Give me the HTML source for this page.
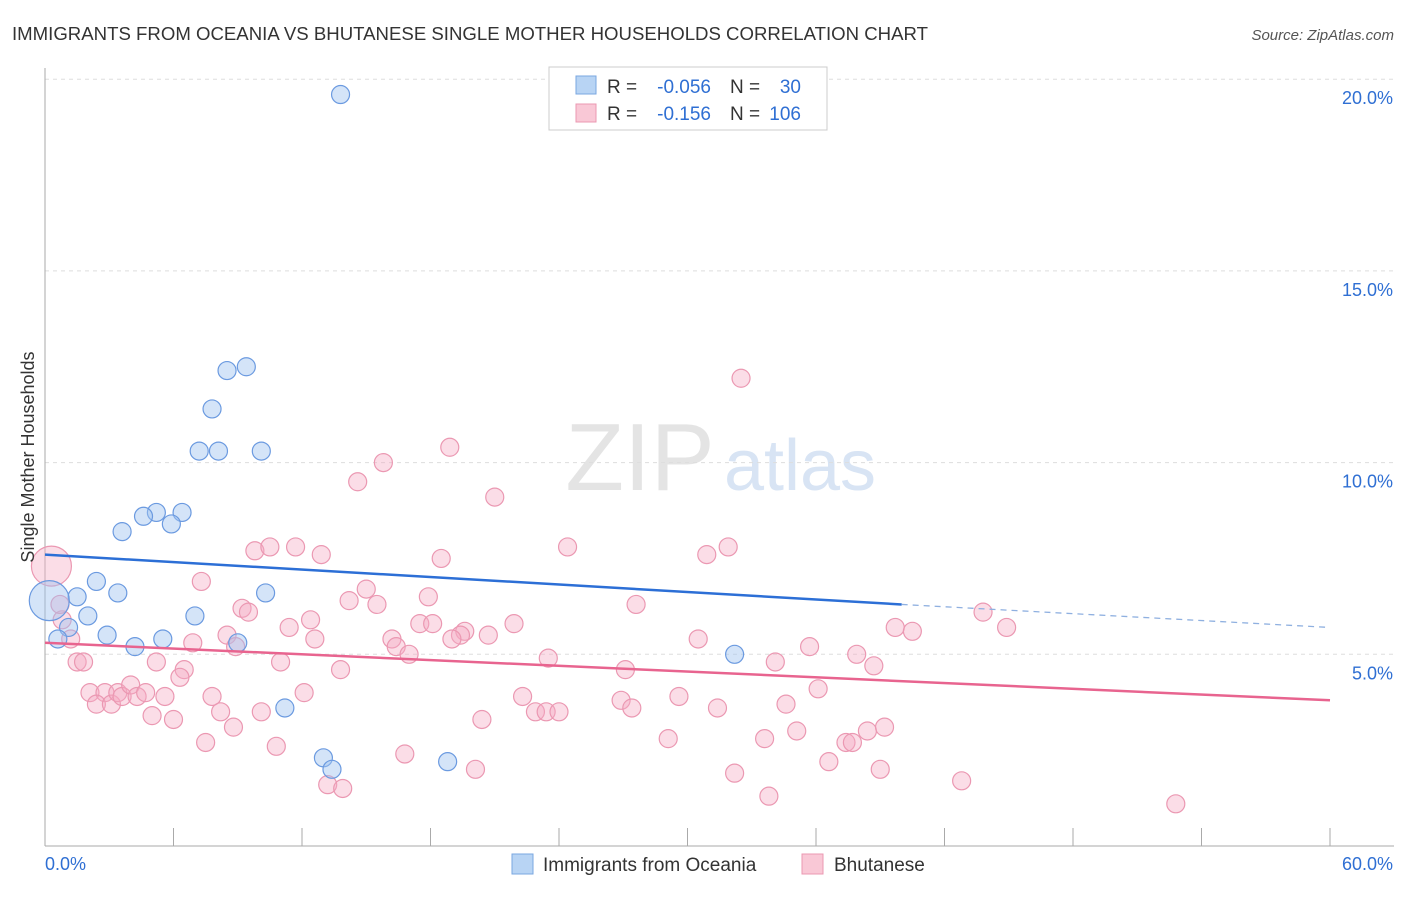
<!DOCTYPE html>
<html><head><meta charset="utf-8">
<style>
body{margin:0;background:#fff;font-family:"Liberation Sans",sans-serif;}
svg text{font-family:"Liberation Sans",sans-serif;}
</style></head>
<body>
<svg id="chart" width="1406" height="892">
<text x="12" y="40" font-size="18.6" fill="#333" textLength="916" lengthAdjust="spacingAndGlyphs">IMMIGRANTS FROM OCEANIA VS BHUTANESE SINGLE MOTHER HOUSEHOLDS CORRELATION CHART</text>
<text x="1394" y="40" font-size="15" fill="#555" font-style="italic" text-anchor="end">Source: ZipAtlas.com</text>
<text x="640" y="490" font-size="96" fill="#e4e4e4" font-family="Liberation Serif" text-anchor="middle">ZIP</text>
<text x="800" y="490" font-size="72" fill="#d8e4f4" text-anchor="middle">atlas</text>
<g id="grid"></g><g id="marks"></g><g id="lines"></g>
<text transform="translate(34,457) rotate(-90)" font-size="18" fill="#333" text-anchor="middle">Single Mother Households</text>
<g>
<rect x="549" y="67" width="278" height="63" fill="#fff" stroke="#ccc"/>
<rect x="576" y="76" width="20" height="18" fill="#b8d4f4" stroke="#7aa7e0"/>
<rect x="576" y="104" width="20" height="18" fill="#f9c8d6" stroke="#eb98b2"/>
<text x="607" y="93" font-size="19" fill="#333">R =</text>
<text x="711" y="93" font-size="19" fill="#2f6fd3" text-anchor="end">-0.056</text>
<text x="730" y="93" font-size="19" fill="#333">N =</text>
<text x="801" y="93" font-size="19" fill="#2f6fd3" text-anchor="end">30</text>
<text x="607" y="120" font-size="19" fill="#333">R =</text>
<text x="711" y="120" font-size="19" fill="#2f6fd3" text-anchor="end">-0.156</text>
<text x="730" y="120" font-size="19" fill="#333">N =</text>
<text x="801" y="120" font-size="19" fill="#2f6fd3" text-anchor="end">106</text>
</g>
<g>
<rect x="512" y="854" width="21" height="20" fill="#b8d4f4" stroke="#7aa7e0"/>
<text x="543" y="871" font-size="19" fill="#333">Immigrants from Oceania</text>
<rect x="802" y="854" width="21" height="20" fill="#f9c8d6" stroke="#eb98b2"/>
<text x="834" y="871" font-size="19" fill="#333">Bhutanese</text>
</g>
</svg>
<script>
const xTicks=[0,6,12,18,24,30,36,42,48,54,60];
const yTicks=[5,10,15,20];
const blueX=[13.8,8.5,9.4,7.8,7.2,8.1,10.1,5.2,4.6,6.4,5.9,3.6,2.4,3.4,10.3,1.5,0.2,2.0,7.0,1.1,0.6,2.9,5.5,4.2,9.0,32.2,11.2,13.0,13.4,18.8];
const blueY=[19.6,12.4,12.5,11.4,10.3,10.3,10.3,8.7,8.6,8.7,8.4,8.2,6.9,6.6,6.6,6.5,6.4,6.0,6.0,5.7,5.4,5.5,5.4,5.2,5.3,5.0,3.6,2.3,2.0,2.2];
const blueR=[9,9,9,9,9,9,9,9,9,9,9,9,9,9,9,9,20,9,9,9,9,9,9,9,9,9,9,9,9,9];
const pinkX=[0.3,32.5,18.9,15.8,14.6,21.0,24.4,18.5,30.9,31.9,9.8,10.5,11.7,12.9,7.3,15.0,14.2,15.5,9.2,9.5,17.9,27.6,12.4,11.4,17.5,18.1,19.6,19.4,20.7,21.9,16.2,19.0,16.4,17.0,12.6,8.5,8.9,6.9,30.5,35.7,39.7,40.5,43.8,44.9,37.9,38.7,34.1,23.5,27.1,13.8,11.0,5.2,6.5,6.3,1.5,1.8,1.2,0.8,0.7,2.1,2.8,2.4,3.1,3.4,3.6,4.0,4.3,4.7,5.6,7.8,8.2,10.1,12.1,5.0,6.0,8.8,7.5,10.8,22.3,22.9,23.4,24.0,20.4,26.9,27.4,29.6,31.4,34.6,36.1,33.6,35.1,29.1,37.4,37.7,38.4,39.2,36.6,39.0,32.2,20.1,16.8,13.2,13.9,42.8,33.8,52.8];
const pinkY=[7.3,12.2,10.4,10.0,9.5,9.1,7.8,7.5,7.6,7.8,7.7,7.8,7.8,7.6,6.9,6.7,6.4,6.3,6.2,6.1,6.5,6.3,5.9,5.7,5.8,5.8,5.6,5.5,5.5,5.8,5.4,5.4,5.2,5.0,5.4,5.5,5.2,5.3,5.4,5.2,5.7,5.6,6.1,5.7,5.0,4.7,4.8,4.9,4.6,4.6,4.8,4.8,4.6,4.4,4.8,4.8,5.4,5.9,6.3,4.0,4.0,3.7,3.7,4.0,3.9,4.2,3.9,4.0,3.9,3.9,3.5,3.5,4.0,3.4,3.3,3.1,2.7,2.6,3.9,3.5,3.5,3.5,3.3,3.8,3.6,3.9,3.6,3.7,4.1,2.8,3.0,2.8,2.7,2.7,3.0,3.1,2.2,2.0,1.9,2.0,2.4,1.6,1.5,1.7,1.3,1.1];
const blueTrend=[7.6,6.3,5.7];
const pinkTrend=[5.3,3.8];
const svg=document.getElementById('chart'),NS='http://www.w3.org/2000/svg';
const X0=45,X1=1330,Y0=846,PY=38.34;
const sx=v=>X0+(X1-X0)*v/60, sy=v=>Y0-v*PY;
function mk(t,a,p){const e=document.createElementNS(NS,t);for(const k in a)e.setAttribute(k,a[k]);p.appendChild(e);return e;}
const grid=document.getElementById('grid');
yTicks.forEach(t=>{const l=mk('line',{x1:45,x2:1394,y1:sy(t),y2:sy(t),stroke:'#ddd','stroke-dasharray':'4,4'},grid);


const tx=mk('text',{x:1393,y:sy(t)+25,'font-size':18,fill:'#2f6fd3','text-anchor':'end'},grid);tx.textContent=t.toFixed(1)+'%';

});
mk('line',{x1:45,x2:45,y1:68,y2:846,stroke:'#aaa'},grid);
mk('line',{x1:45,x2:1394,y1:846,y2:846,stroke:'#aaa'},grid);
xTicks.forEach(t=>{const l=mk('line',{x1:sx(t),x2:sx(t),y1:828,y2:846,stroke:'#aaa'},grid);

});
[[0,'start',45],[60,'end',1393]].forEach(([t,a,x])=>{const tx=mk('text',{x:x,y:870,'font-size':18,fill:'#2f6fd3','text-anchor':a},grid);tx.textContent=t.toFixed(1)+'%';

});
const marks=document.getElementById('marks');
pinkX.forEach((x,i)=>{const c=mk('circle',{cx:sx(x),cy:sy(pinkY[i]),r:i==0?20:9,fill:'rgba(245,170,195,0.4)',stroke:'#eb98b2','stroke-width':1.2},marks);

});
blueX.forEach((x,i)=>{const c=mk('circle',{cx:sx(x),cy:sy(blueY[i]),r:blueR[i],fill:'rgba(160,195,240,0.45)',stroke:'#6b9ae0','stroke-width':1.2},marks);

});
const lines=document.getElementById('lines');
const b1=mk('line',{x1:sx(0),y1:sy(blueTrend[0]),x2:sx(40),y2:sy(blueTrend[1]),stroke:'#2c6fd6','stroke-width':2.5},lines);


const b2=mk('line',{x1:sx(40),y1:sy(blueTrend[1]),x2:sx(60),y2:sy(blueTrend[2]),stroke:'#8fb0e0','stroke-width':1.3,'stroke-dasharray':'6,5'},lines);


const p1=mk('line',{x1:sx(0),y1:sy(pinkTrend[0]),x2:sx(60),y2:sy(pinkTrend[1]),stroke:'#e8648f','stroke-width':2.5},lines);


</script>
</body></html>
